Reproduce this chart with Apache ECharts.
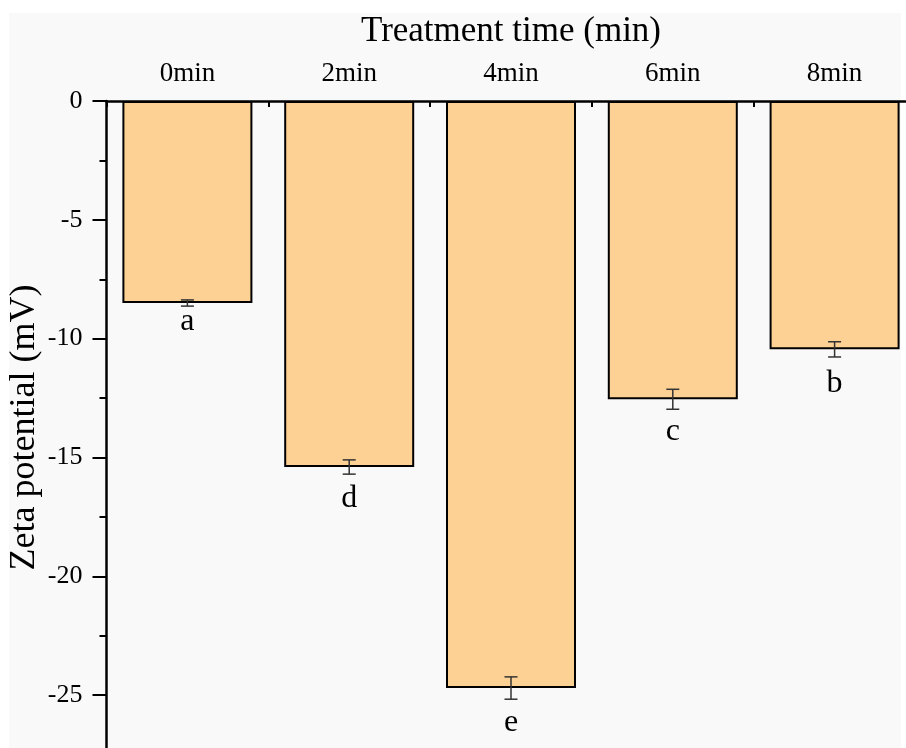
<!DOCTYPE html>
<html>
<head>
<meta charset="utf-8">
<script src="https://cdn.jsdelivr.net/npm/echarts@6/dist/echarts.min.js"></script>
<style>
html,body{margin:0;padding:0;background:#ffffff;}
#chart{width:906px;height:748px;}
</style>
</head>
<body>
<div id="chart"></div>
<script>
const categories = ['0min', '2min', '4min', '6min', '8min'];
const values = [-8.5, -15.4, -24.7, -12.55, -10.45];
const errors = [0.13, 0.3, 0.47, 0.42, 0.32];
const letters = ['a', 'd', 'e', 'c', 'b'];
const letterValues = [-9.3, -16.75, -26.14, -13.93, -11.91];

const FONT = "'Liberation Serif', 'Times New Roman', serif";

const errData = categories.map((c, i) => [i, values[i], errors[i], letterValues[i], letters[i]]);

const chart = echarts.init(document.getElementById('chart'), null, {renderer: 'canvas'});

chart.setOption({
  backgroundColor: '#ffffff',
  animation: false,
  graphic: [{
    type: 'rect', silent: true, z: -100,
    shape: {x: 9, y: 13, width: 892, height: 740},
    style: {fill: '#f9f9f9'}
  }],
  grid: {left: 106.5, right: -9.5, top: 101, bottom: -66, containLabel: false, outerBoundsMode: 'none'},
  xAxis: [{
    type: 'category',
    position: 'top',
    data: categories,
    name: 'Treatment time (min)',
    nameLocation: 'middle',
    nameGap: 52,
    nameTextStyle: {fontFamily: FONT, fontSize: 35, color: '#000'},
    axisLine: {show: true, onZero: false, lineStyle: {color: '#000', width: 2.5}},
    axisTick: {show: true, alignWithLabel: true, inside: true, length: 12, lineStyle: {color: '#000', width: 2}},
    axisLabel: {fontFamily: FONT, fontSize: 27, color: '#000', margin: 14},
    splitLine: {show: false}
  }, {
    type: 'category',
    position: 'top',
    data: categories,
    axisLine: {show: false},
    axisTick: {show: true, alignWithLabel: false, inside: true, length: 6, lineStyle: {color: '#000', width: 2}},
    axisLabel: {show: false},
    splitLine: {show: false}
  }],
  yAxis: {
    type: 'value',
    min: -30,
    max: 0,
    interval: 5,
    name: 'Zeta potential (mV)',
    nameLocation: 'middle',
    nameGap: 64,
    nameMoveOverlap: false,
    nameTextStyle: {fontFamily: FONT, fontSize: 36, color: '#000', padding: [0, 0, 0, 60]},
    axisLine: {show: true, onZero: false, lineStyle: {color: '#000', width: 2.5}},
    axisTick: {show: true, inside: false, length: 14, lineStyle: {color: '#000', width: 2}},
    minorTick: {show: true, splitNumber: 2, length: 7, lineStyle: {color: '#000', width: 2}},
    axisLabel: {fontFamily: FONT, fontSize: 26, color: '#000', margin: 24},
    splitLine: {show: false}
  },
  series: [{
    type: 'bar',
    data: values,
    barWidth: 130,
    itemStyle: {color: '#FDD193', borderColor: '#000', borderWidth: 2},
    z: 2
  }, {
    type: 'custom',
    data: errData,
    encode: {x: 0, y: 1},
    z: 5,
    renderItem: function (params, api) {
      const idx = api.value(0);
      const v = api.value(1);
      const e = api.value(2);
      const lv = api.value(3);
      const hi = api.coord([idx, v + e]);
      const lo = api.coord([idx, v - e]);
      const lp = api.coord([idx, lv]);
      const cw = 6.5;
      const ls = {stroke: '#333', lineWidth: 1.5};
      return {
        type: 'group',
        children: [
          {type: 'line', shape: {x1: hi[0], y1: hi[1], x2: lo[0], y2: lo[1]}, style: ls},
          {type: 'line', shape: {x1: hi[0] - cw, y1: hi[1], x2: hi[0] + cw, y2: hi[1]}, style: ls},
          {type: 'line', shape: {x1: lo[0] - cw, y1: lo[1], x2: lo[0] + cw, y2: lo[1]}, style: ls},
          {type: 'text', x: lp[0], y: lp[1], style: {
            text: letters[params.dataIndex], fill: '#000', font: '32px ' + FONT,
            align: 'center', verticalAlign: 'middle'
          }}
        ]
      };
    }
  }]
});
</script>
</body>
</html>
